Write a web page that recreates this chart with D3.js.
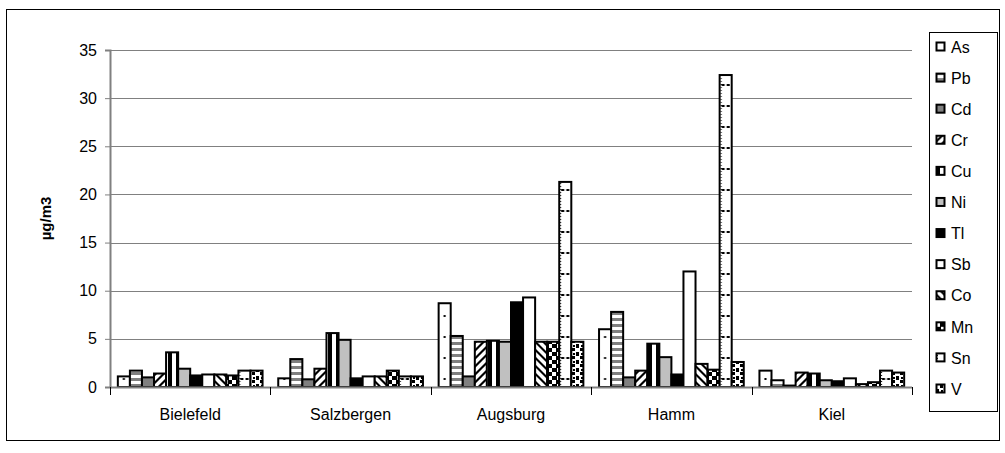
<!DOCTYPE html>
<html>
<head>
<meta charset="utf-8">
<script src="https://cdn.jsdelivr.net/npm/d3@7"></script>
<style>
  html, body { margin: 0; padding: 0; background: #fff; }
  svg { display: block; font-family: "Liberation Sans", Arial, sans-serif; }
</style>
</head>
<body>
<svg id="chart" width="1005" height="453"></svg>
<script>
// Sites and measured elements
const sites = ["Bielefeld", "Salzbergen", "Augsburg", "Hamm", "Kiel"];
const elements = ["As", "Pb", "Cd", "Cr", "Cu", "Ni", "Tl", "Sb", "Co", "Mn", "Sn", "V"];

// Concentrations per element, one value per site (µg/m3)
const As = [1.1, 0.9, 8.7, 6.0, 1.7];
const Pb = [1.7, 2.9, 5.3, 7.8, 0.7];
const Cd = [1.0, 0.8, 1.1, 1.0, 0.15];
const Cr = [1.4, 1.9, 4.7, 1.7, 1.5];
const Cu = [3.6, 5.6, 4.8, 4.5, 1.4];
const Ni = [1.9, 4.9, 4.7, 3.1, 0.7];
const Tl = [1.2, 0.9, 8.8, 1.3, 0.6];
const Sb = [1.3, 1.1, 9.3, 12.0, 0.9];
const Co = [1.3, 1.1, 4.7, 2.4, 0.3];
const Mn = [1.2, 1.7, 4.7, 1.8, 0.5];
const Sn = [1.7, 1.1, 21.3, 32.4, 1.7];
const V  = [1.7, 1.1, 4.7, 2.6, 1.5];
const seriesValues = [As, Pb, Cd, Cr, Cu, Ni, Tl, Sb, Co, Mn, Sn, V];

const yTicks = [0, 5, 10, 15, 20, 25, 30, 35];
const yTitle = "µg/m3";

const svg = d3.select("#chart");
const margin = { left: 110, right: 912, top: 50, bottom: 387 };

// Fill patterns for each element
const defs = svg.append("defs");
function pat(id, w, h, draw, x, y) {
  const p = defs.append("pattern").attr("id", id)
    .attr("patternUnits", "userSpaceOnUse").attr("width", w).attr("height", h)
    .attr("x", x || 0).attr("y", y || 0);
  p.append("rect").attr("width", w).attr("height", h).attr("fill", "#fff");
  draw(p);
  return "url(#" + id + ")";
}
// dotted fill: one dot per cell, cell as wide as a bar
const drawAs = w => p => p.append("rect").attr("x", w / 2 - 1).attr("y", 12).attr("width", 2).attr("height", 2).attr("fill", "#000");
// dashed fill: a row of short dashes plus a fine dotted column
const drawSn = w => p => {
  p.append("rect").attr("x", 2).attr("y", 12).attr("width", 3).attr("height", 2).attr("fill", "#000");
  p.append("rect").attr("x", w - 5).attr("y", 12).attr("width", 3).attr("height", 2).attr("fill", "#000");
  [0, 3, 6, 9, 12, 15, 18].forEach(k => p.append("rect").attr("x", 1).attr("y", k).attr("width", 1).attr("height", 1).attr("fill", "#000"));
};
pat("p-As", 8, 21, drawAs(8));
pat("p-Sn", 12, 21, drawSn(12));
pat("p-Pb", 6, 6, p => p.append("rect").attr("y", 0).attr("width", 6).attr("height", 3).attr("fill", "#808080"));
pat("p-Cr", 8, 8, p => p.append("path").attr("d", "M0,8 L8,0 L8,3 L3,8 Z M0,3 L3,0 L0,0 Z").attr("fill", "#000"));
pat("p-Cu", 8, 8, p => p.append("rect").attr("x", 0).attr("width", 4).attr("height", 8).attr("fill", "#000"));
pat("p-Co", 8, 8, p => p.append("path").attr("d", "M0,0 L3,0 L8,5 L8,8 Z M0,5 L3,8 L0,8 Z").attr("fill", "#000"));
pat("p-Mn", 8, 8, p => {
  p.append("rect").attr("x", 0).attr("y", 0).attr("width", 5).attr("height", 4).attr("fill", "#000");
  p.append("rect").attr("x", 4).attr("y", 4).attr("width", 4).attr("height", 4).attr("fill", "#000");
});
pat("p-V", 8, 8, p => {
  p.append("rect").attr("x", 0).attr("y", 0).attr("width", 3).attr("height", 4).attr("fill", "#000");
  p.append("rect").attr("x", 4).attr("y", 4).attr("width", 3).attr("height", 3).attr("fill", "#000");
  p.append("rect").attr("x", 5).attr("y", 1).attr("width", 2).attr("height", 2).attr("fill", "#000");
});
const fills = {
  As: "url(#p-As)", Pb: "url(#p-Pb)", Cd: "#808080", Cr: "url(#p-Cr)", Cu: "url(#p-Cu)",
  Ni: "#c0c0c0", Tl: "#000", Sb: "#fff", Co: "url(#p-Co)", Mn: "url(#p-Mn)",
  Sn: "url(#p-Sn)", V: "url(#p-V)"
};

// Outer frame
svg.append("rect").attr("x", 6.5).attr("y", 9.5).attr("width", 993).attr("height", 431)
  .attr("fill", "none").attr("stroke", "#000").attr("stroke-width", 1);

// Scales
const x0 = d3.scaleBand().domain(sites).range([margin.left, margin.right]).paddingInner(0).paddingOuter(0);
const x1 = d3.scaleBand().domain(elements).range([0, x0.bandwidth()]).paddingInner(0).paddingOuter(0.65);
const y = d3.scaleLinear().domain([0, 35]).range([margin.bottom, margin.top]);

// Gridlines
svg.append("g").selectAll("line").data(yTicks.filter(t => t > 0)).join("line")
  .attr("x1", margin.left).attr("x2", margin.right)
  .attr("y1", d => Math.round(y(d)) + 0.5).attr("y2", d => Math.round(y(d)) + 0.5)
  .attr("stroke", "#808080").attr("stroke-width", 1);

// Y axis
const yAxis = svg.append("g").attr("transform", `translate(${margin.left},0)`)
  .call(d3.axisLeft(y).tickValues(yTicks).tickSize(5).tickPadding(8));
yAxis.select(".domain").attr("stroke", "#808080").attr("stroke-width", 2);
yAxis.selectAll(".tick line").attr("stroke", "#808080");
yAxis.selectAll(".tick text").attr("font-size", 16).attr("fill", "#000")
  .attr("font-family", "'Liberation Sans', Arial, sans-serif");

svg.append("text")
  .attr("transform", `translate(51,${(margin.top + margin.bottom) / 2}) rotate(-90)`)
  .attr("text-anchor", "middle").attr("font-size", 15).attr("font-weight", "bold")
  .text(yTitle);

// Bars
const flat = [];
sites.forEach((s, i) => elements.forEach((e, j) => flat.push({ site: s, el: e, v: seriesValues[j][i] })));
const bw = x1.bandwidth();
// dotted/dashed fills are anchored to each bar so the marks sit inside it
flat.forEach((d, k) => {
  d.x = x0(d.site) + x1(d.el);
  if (d.el === "As") d.fill = pat("p-As-" + k, bw, 21, drawAs(bw), d.x, y(0));
  else if (d.el === "Sn") d.fill = pat("p-Sn-" + k, bw, 21, drawSn(bw), d.x, y(0));
  else d.fill = fills[d.el];
});
svg.append("g").selectAll("rect").data(flat).join("rect")
  .attr("x", d => d.x)
  .attr("y", d => y(d.v))
  .attr("width", bw)
  .attr("height", d => y(0) - y(d.v))
  .attr("fill", d => d.fill)
  .attr("stroke", "#000").attr("stroke-width", 2);

// X axis
const xAxis = svg.append("g").attr("transform", `translate(0,${margin.bottom})`);
xAxis.append("line").attr("x1", margin.left).attr("x2", margin.right)
  .attr("y1", 0.5).attr("y2", 0.5).attr("stroke", "#808080").attr("stroke-width", 2);
xAxis.selectAll(".sep").data(sites.concat(["end"])).join("line")
  .attr("x1", (d, i) => Math.round(margin.left + i * x0.bandwidth()) + 0.5)
  .attr("x2", (d, i) => Math.round(margin.left + i * x0.bandwidth()) + 0.5)
  .attr("y1", 0).attr("y2", 8).attr("stroke", "#000");
xAxis.selectAll("text").data(sites).join("text")
  .attr("x", d => x0(d) + x0.bandwidth() / 2).attr("y", 33)
  .attr("text-anchor", "middle").attr("font-size", 16).text(d => d);

// Legend
const legend = svg.append("g");
legend.append("rect").attr("x", 929.5).attr("y", 32.5).attr("width", 68).attr("height", 379)
  .attr("fill", "#fff").attr("stroke", "#000");
const ly = d3.scalePoint().domain(elements).range([47, 389]);
const li = legend.selectAll("g").data(elements).join("g")
  .attr("transform", d => `translate(936,${ly(d)})`);
li.append("rect").attr("x", 0.5).attr("y", -4.5).attr("width", 8).attr("height", 8)
  .attr("fill", d => fills[d]).attr("stroke", "#000").attr("stroke-width", 2);
li.append("text").attr("x", 15).attr("y", 0).attr("dy", "0.36em")
  .attr("font-size", 16).text(d => d);
</script>
</body>
</html>
